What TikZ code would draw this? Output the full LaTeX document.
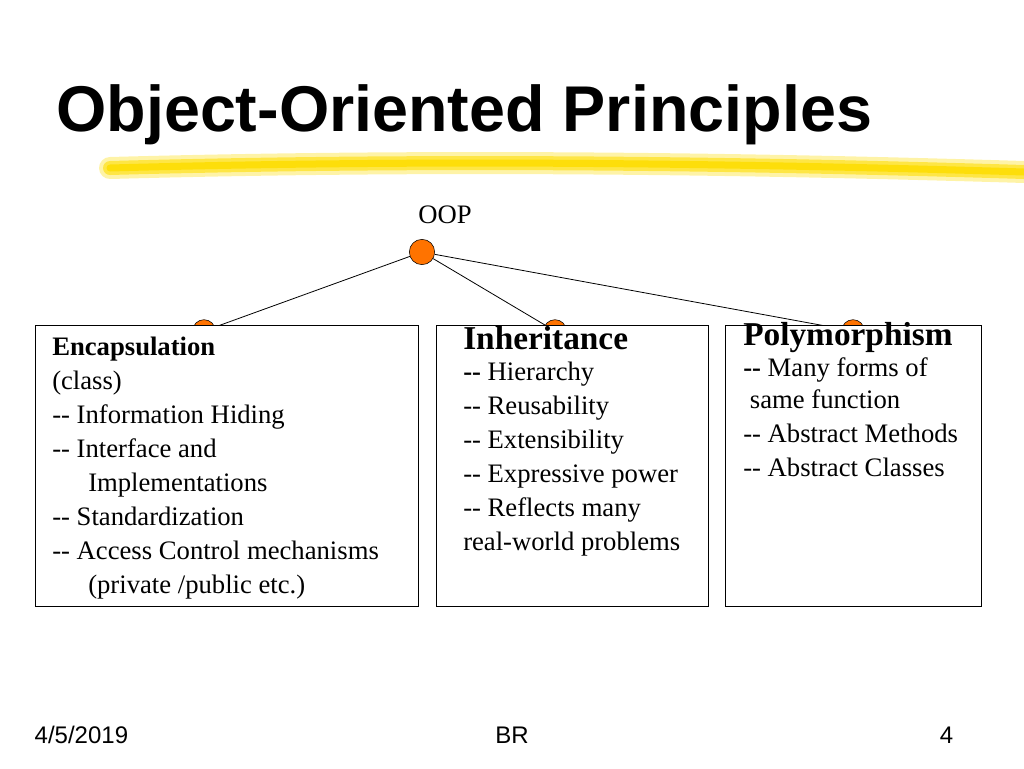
\documentclass[tikz,border=0pt]{standalone}
\usepackage{fontspec}
\setmainfont{Liberation Serif}
\setsansfont{Liberation Sans}
\usetikzlibrary{positioning}

\begin{document}
\begin{tikzpicture}[x=0.75pt, y=-0.75pt,
    box/.style={rectangle, draw, fill=white, anchor=north west, inner sep=0pt},
    knob/.style={circle, draw, fill=orange!90!red, inner sep=0pt},
    lines/.style={align=left, anchor=north west, inner sep=0pt, font=\fontsize{20}{25.5}\selectfont},
    foot/.style={font=\sffamily\fontsize{18}{20}\selectfont}]
    \useasboundingbox (0,0) rectangle (1024,768);

    % Title and brush stroke
    \foreach \w/\o in {22/0.35, 14/0.6, 7/0.9}
        \draw[yellow!80!orange, line width=\w*0.75pt, opacity=\o, line cap=round]
            (110,168) .. controls (400,160) and (700,162) .. (1024,172);
    \node[anchor=west, inner sep=0pt, font=\sffamily\bfseries\fontsize{48.5}{52}\selectfont] (title) at (56,115) {Object-Oriented Principles};

    % Root
    \node[inner sep=0pt, font=\fontsize{20}{24}\selectfont] (oop) at (445,215) {OOP};
    \node[knob, minimum size=19pt] (root) at (422,252) {};

    % Child knobs
    \node[knob, minimum size=17pt] (k1) at (204,331) {};
    \node[knob, minimum size=17pt] (k2) at (555,331) {};
    \node[knob, minimum size=17pt] (k3) at (853,331) {};
    \draw[semithick] (root) -- (k1.center);
    \draw[semithick] (root) -- (k2.center);
    \draw[semithick] (root) -- (k3.center);

    % Boxes
    \node[box, minimum width=383*0.75pt, minimum height=281*0.75pt] (enc) at (35,325) {};
    \node[box, minimum width=272*0.75pt, minimum height=281*0.75pt] (inh) at (436,325) {};
    \node[box, minimum width=256*0.75pt, minimum height=281*0.75pt] (poly) at (725,325) {};

    \node[lines] (enctext) at (52,337) {{\fontsize{20}{22}\selectfont\bfseries Encapsulation}\\[0pt]
        (class)\\
        -{}- Information Hiding\\
        -{}- Interface and\\
        \hspace*{1.35em}Implementations\\
        -{}- Standardization\\
        -{}- Access Control mechanisms\\
        \hspace*{1.35em}(private /public etc.)};
    \node[lines] (inhtext) at (463,326) {{\fontsize{25}{27}\selectfont\bfseries Inheritance}\\[-2pt]
        \textbf{-{}-} Hierarchy\\
        -{}- Reusability\\
        -{}- Extensibility\\
        -{}- Expressive power\\
        -{}- Reflects many\\
        real-world problems};
    \node[lines] (polytext) at (743,322) {{\fontsize{25}{27}\selectfont\bfseries Polymorphism}\\[-2pt]
        \textbf{-{}-} Many forms of\\[-2pt]
        \hspace*{0.25em}same function\\
        -{}- Abstract Methods\\
        -{}- Abstract Classes};

    % Footer
    \node[foot, anchor=west] (date) at (30,735) {4/5/2019};
    \node[foot] (br) at (512,735) {BR};
    \node[foot, anchor=east] (page) at (958,735) {4};
\end{tikzpicture}
\end{document}
